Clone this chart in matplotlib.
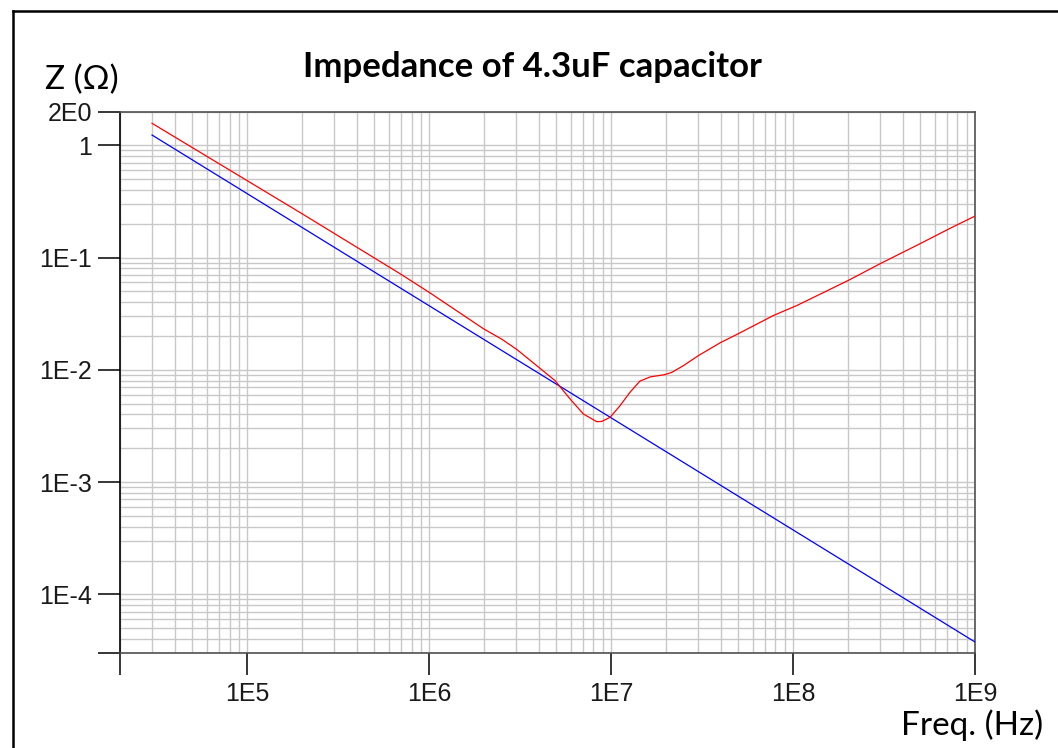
#! /usr/bin/env python
"""Impedance of a 4.3uF capacitor: ideal vs measured, log-log."""

import numpy as np
import matplotlib
matplotlib.use('Agg')
import matplotlib.pyplot as plt
from matplotlib.lines import Line2D
from matplotlib.ticker import FixedLocator, FixedFormatter, LogLocator, NullFormatter

plt.rcParams['font.family'] = ['Liberation Sans', 'DejaVu Sans']

# ideal capacitor, a straight line on log-log (read at both ends)
ideal_freq = [3.0e4, 1.0e9]
ideal_z = [1.234, 3.76e-5]

meas_freq = [3.0e4, 2.0e5, 6.93e5, 1.01e6, 1.99e6, 2.5e6, 3.03e6, 4.07e6, 4.92e6,
             5.95e6, 7.04e6, 8.34e6, 8.89e6, 9.87e6, 1.12e7, 1.27e7, 1.44e7,
             1.64e7, 1.98e7, 2.16e7, 2.50e7, 3.02e7, 3.97e7, 5.11e7, 7.80e7,
             1.05e8, 2.01e8, 3.01e8, 4.99e8, 7.29e8, 1.0e9]
meas_z = [1.57, 0.246, 0.0717, 0.0485, 0.0232, 0.0188, 0.0152, 0.0103, 0.00801,
          0.0055, 0.00404, 0.00345, 0.00347, 0.00377, 0.00479, 0.0063, 0.00793,
          0.00864, 0.00906, 0.0095, 0.0109, 0.01338, 0.01738, 0.02134, 0.03045,
          0.0374, 0.0625, 0.0881, 0.1328, 0.182, 0.234]

x_ticks = [2e4, 1e5, 1e6, 1e7, 1e8, 1e9]
x_labels = ['', '1E5', '1E6', '1E7', '1E8', '1E9']
y_ticks = [3e-5, 1e-4, 1e-3, 1e-2, 1e-1, 1, 2]
y_labels = ['', '1E-4', '1E-3', '1E-2', '1E-1', '1', '2E0']

W, H = 1058, 748
fig = plt.figure(figsize=(W / 100.0, H / 100.0), dpi=100)
ax = fig.add_axes([120.0 / W, (H - 653.0) / H, 855.0 / W, 541.5 / H])

ax.set_xscale('log')
ax.set_yscale('log')
ax.set_xlim(2e4, 1e9)
ax.set_ylim(3e-5, 2)

ax.plot(ideal_freq, ideal_z, color='#0000ff', lw=0.9, zorder=3)
ax.plot(meas_freq, meas_z, color='#ff0000', lw=0.9, zorder=4)

# ticks
ax.xaxis.set_major_locator(FixedLocator(x_ticks))
ax.xaxis.set_major_formatter(FixedFormatter(x_labels))
ax.yaxis.set_major_locator(FixedLocator(y_ticks))
ax.yaxis.set_major_formatter(FixedFormatter(y_labels))
for axis in (ax.xaxis, ax.yaxis):
    axis.set_minor_locator(LogLocator(base=10, subs=np.arange(1, 10), numticks=30))
    axis.set_minor_formatter(NullFormatter())

ax.tick_params(which='major', direction='out', length=16, width=1.1,
               color='black', labelsize=18, labelcolor='#1a1a1a')
ax.tick_params(which='minor', length=0)
ax.tick_params(axis='x', pad=5)
ax.tick_params(axis='y', pad=4)

ax.grid(True, which='both', color='#c8c8c8', lw=1.0, zorder=1)
ax.set_axisbelow(True)

for side in ('top', 'right', 'bottom'):
    ax.spines[side].set_color('#505050')
    ax.spines[side].set_linewidth(1.2)
ax.spines['left'].set_color('black')
ax.spines['left'].set_linewidth(1.2)

# texts
fig.text(532.0 / W, 1 - 67.0 / H, 'Impedance of 4.3uF capacitor',
         ha='center', va='center', fontsize=25, fontweight='bold',
         family=['Lato', 'DejaVu Sans'])
fig.text(45.0 / W, 1 - 80.0 / H, 'Z (\u03a9)', ha='left', va='center',
         fontsize=24, family=['Lato', 'DejaVu Sans'])
fig.text(1043.0 / W, 1 - 725.0 / H, 'Freq. (Hz)', ha='right', va='center',
         fontsize=24, family=['Lato', 'DejaVu Sans'])

# outer frame (left and top edges visible)
fig.add_artist(Line2D([12.5 / W, 12.5 / W], [0, 1 - 10.5 / H],
                      transform=fig.transFigure, color='black', lw=1.8))
fig.add_artist(Line2D([12.5 / W, 1], [1 - 10.5 / H, 1 - 10.5 / H],
                      transform=fig.transFigure, color='black', lw=1.8))

fig.savefig('out.png', dpi=100)
